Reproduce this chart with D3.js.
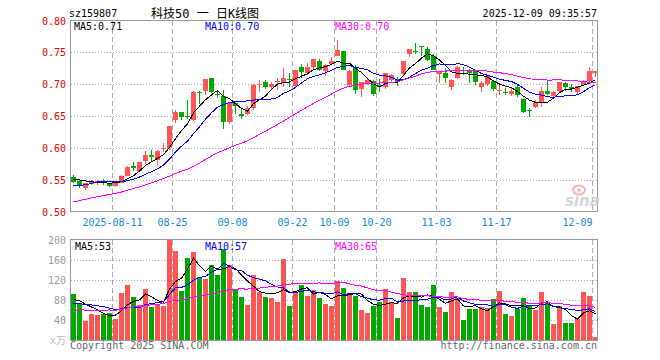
<!DOCTYPE html>
<html><head><meta charset="utf-8">
<script src="https://cdn.jsdelivr.net/npm/d3@7"></script>
<style>body{margin:0;background:#fff}svg{display:block}</style>
</head><body>
<svg id="c" width="660" height="360"></svg>
<script>
const dates = ["07-31","08-01","08-04","08-05","08-06","08-07","08-08","08-11","08-12","08-13","08-14","08-15","08-18","08-19","08-20","08-21","08-22","08-25","08-26","08-27","08-28","08-29","09-01","09-02","09-03","09-04","09-05","09-08","09-09","09-10","09-11","09-12","09-15","09-16","09-17","09-18","09-19","09-22","09-23","09-24","09-25","09-26","09-29","09-30","10-09","10-10","10-13","10-14","10-15","10-16","10-17","10-20","10-21","10-22","10-23","10-24","10-27","10-28","10-29","10-30","10-31","11-03","11-04","11-05","11-06","11-07","11-10","11-11","11-12","11-13","11-14","11-17","11-18","11-19","11-20","11-21","11-24","11-25","11-26","11-27","11-28","12-01","12-02","12-03","12-04","12-05","12-08","12-09"];
const openP = [0.554,0.548,0.537,0.543,0.544,0.546,0.544,0.540,0.545,0.556,0.572,0.564,0.580,0.589,0.581,0.598,0.600,0.644,0.657,0.650,0.644,0.688,0.689,0.709,0.685,0.682,0.640,0.670,0.653,0.653,0.662,0.699,0.703,0.696,0.703,0.702,0.708,0.697,0.727,0.717,0.727,0.736,0.720,0.731,0.745,0.752,0.698,0.727,0.692,0.701,0.705,0.698,0.695,0.706,0.708,0.716,0.748,0.752,0.760,0.756,0.745,0.716,0.717,0.695,0.709,0.722,0.722,0.720,0.695,0.700,0.705,0.690,0.688,0.685,0.695,0.677,0.660,0.664,0.672,0.689,0.681,0.689,0.702,0.695,0.688,0.699,0.705,0.717];
const highP = [0.558,0.551,0.545,0.549,0.550,0.551,0.545,0.547,0.558,0.572,0.578,0.578,0.595,0.597,0.596,0.607,0.635,0.659,0.657,0.675,0.689,0.689,0.708,0.710,0.691,0.691,0.670,0.670,0.661,0.666,0.701,0.706,0.706,0.703,0.710,0.725,0.717,0.722,0.731,0.734,0.739,0.739,0.732,0.742,0.770,0.752,0.723,0.730,0.703,0.708,0.706,0.708,0.717,0.716,0.712,0.737,0.755,0.764,0.760,0.759,0.747,0.721,0.725,0.708,0.728,0.727,0.722,0.721,0.705,0.714,0.706,0.699,0.694,0.694,0.698,0.677,0.662,0.675,0.695,0.706,0.690,0.703,0.703,0.700,0.697,0.706,0.727,0.720];
const lowP = [0.544,0.537,0.534,0.541,0.541,0.541,0.538,0.539,0.544,0.555,0.564,0.563,0.575,0.580,0.573,0.594,0.597,0.639,0.644,0.645,0.642,0.669,0.683,0.686,0.678,0.630,0.638,0.653,0.646,0.652,0.660,0.687,0.693,0.693,0.691,0.695,0.695,0.695,0.710,0.714,0.723,0.720,0.713,0.730,0.744,0.722,0.696,0.685,0.680,0.698,0.681,0.688,0.693,0.703,0.697,0.714,0.742,0.747,0.744,0.736,0.722,0.702,0.702,0.691,0.708,0.714,0.702,0.698,0.688,0.697,0.689,0.683,0.683,0.681,0.680,0.655,0.648,0.662,0.664,0.683,0.678,0.687,0.689,0.688,0.683,0.697,0.703,0.712];
const closeP = [0.547,0.542,0.544,0.547,0.548,0.544,0.540,0.546,0.556,0.570,0.569,0.577,0.589,0.586,0.595,0.600,0.634,0.657,0.649,0.648,0.687,0.686,0.708,0.687,0.683,0.640,0.670,0.666,0.650,0.662,0.699,0.700,0.696,0.701,0.705,0.709,0.706,0.722,0.719,0.727,0.739,0.722,0.730,0.737,0.753,0.723,0.721,0.691,0.703,0.706,0.684,0.695,0.717,0.714,0.705,0.737,0.755,0.750,0.758,0.738,0.723,0.720,0.709,0.706,0.727,0.720,0.717,0.703,0.702,0.713,0.692,0.691,0.687,0.689,0.683,0.656,0.659,0.670,0.689,0.684,0.688,0.703,0.695,0.692,0.697,0.705,0.720,0.720];
const volume = [92,74,38,52,50,53,55,42,94,110,86,70,102,66,72,69,199,178,98,164,176,126,122,150,130,181,150,101,86,70,130,96,86,84,76,162,68,94,110,88,100,84,72,68,118,104,90,88,60,54,68,76,102,76,44,124,96,96,70,66,110,66,56,96,84,40,62,62,66,64,82,98,52,48,62,84,68,60,96,76,33,68,34,34,42,96,88,7];
// estimated closes / volumes of the 29 sessions before 07-31 (needed for the moving averages)
const priorCloses = [0.478,0.482,0.485,0.49,0.488,0.492,0.495,0.49,0.486,0.49,0.494,0.497,0.495,0.49,0.498,0.52,0.535,0.545,0.55,0.55,0.535,0.53,0.528,0.525,0.532,0.545,0.552,0.553,0.554];
const priorVolumes = [55,48,60,50,45,52,54,38,32,36,30,40,34,35,35,80,95,78,90,83,70,62,58,66,69,85,72,80,76];
const priceTicks = [0.50,0.55,0.60,0.65,0.70,0.75,0.80];
const volTicks = [40,80,120,160,200];
const tickDates = ["08-11","08-25","09-08","09-22","10-09","10-20","11-03","11-17","12-09"];
const tickLabels = ["2025-08-11","08-25","09-08","09-22","10-09","10-20","11-03","11-17","12-09"];
const maPeriods = [5,10,30];
const maColors = ["#000000","#0000ff","#ff00ff"];

const RED = "#ff5555", GREEN = "#00a800";
const FONT = "'DejaVu Sans Mono', 'Noto Sans CJK SC', monospace";
const svg = d3.select("#c");
const L = 70.5, R = 597.5;
const n = dates.length;
const xc = d3.scaleLinear().domain([0, n - 1]).range([73.5, 73.5 + 6 * (n - 1)]);
const yP = d3.scaleLinear().domain([0.50, 0.80]).range([211.5, 20.5]);
const yV = d3.scaleLinear().domain([0, 200]).range([340.5, 239.5]);

function ma(series, prior, p) {
  const all = prior.concat(series);
  const off = prior.length;
  return series.map((_, i) => d3.mean(all.slice(off + i - p + 1, off + i + 1)));
}

function panel(y, top, bottom, hTicks) {
  const g = svg.append("g");
  g.selectAll(".hg").data(hTicks).join("line")
    .attr("x1", L).attr("x2", R).attr("y1", d => Math.round(y(d)) + 0.5).attr("y2", d => Math.round(y(d)) + 0.5)
    .attr("stroke", "#aaaaaa").attr("stroke-dasharray", "1,2").attr("shape-rendering", "crispEdges");
  g.selectAll(".vg").data(tickDates).join("line")
    .attr("x1", d => xc(dates.indexOf(d)) - 3).attr("x2", d => xc(dates.indexOf(d)) - 3)
    .attr("y1", top).attr("y2", bottom)
    .attr("stroke", "#aaaaaa").attr("stroke-dasharray", "5,3").attr("shape-rendering", "crispEdges");
  return g;
}

// ---- main price panel ----
panel(yP, 20.5, 211.5, [0.55,0.60,0.65,0.70,0.75]);
const candles = svg.append("g").attr("shape-rendering", "crispEdges");
dates.forEach((d, i) => {
  const up = closeP[i] >= openP[i];
  const col = up ? RED : GREEN;
  const x = xc(i);
  candles.append("line").attr("x1", x).attr("x2", x)
    .attr("y1", yP(highP[i])).attr("y2", yP(lowP[i])).attr("stroke", col);
  const yt = yP(Math.max(openP[i], closeP[i])), yb = yP(Math.min(openP[i], closeP[i]));
  candles.append("rect").attr("x", x - 2.5).attr("width", 5)
    .attr("y", yt).attr("height", Math.max(1, yb - yt)).attr("fill", col);
});
const priceMAs = maPeriods.map(p => ma(closeP, priorCloses, p));
const lineP = d3.line().x((d, i) => xc(i)).y(d => yP(d));
priceMAs.forEach((m, k) => {
  svg.append("path").attr("d", lineP(m)).attr("fill", "none")
    .attr("stroke", maColors[k]).attr("stroke-width", 1).attr("shape-rendering", "crispEdges");
});
svg.append("rect").attr("x", L).attr("y", 20.5).attr("width", R - L).attr("height", 191)
  .attr("fill", "none").attr("stroke", "#999999").attr("shape-rendering", "crispEdges");

// y labels price
svg.selectAll(".pl").data(priceTicks).join("text")
  .attr("x", 66).attr("y", d => yP(d) + 4).attr("text-anchor", "end")
  .attr("font-family", FONT).attr("font-size", 10).attr("fill", "#e00000")
  .text(d => d.toFixed(2));
// x labels
svg.selectAll(".xl").data(tickDates).join("text")
  .attr("x", (d, i) => i === tickDates.length - 1 ? xc(dates.indexOf(d)) - 3 : xc(dates.indexOf(d)) - 3)
  .attr("text-anchor", (d, i) => i === tickDates.length - 1 ? "end" : "middle")
  .attr("y", 225.5).attr("font-family", FONT).attr("font-size", 10).attr("fill", "#1188dd")
  .text((d, i) => tickLabels[i]);

// legends
const legX = [74, 205, 335];
const lastP = priceMAs.map(m => m[m.length - 1]);
maPeriods.forEach((p, k) => {
  svg.append("text").attr("x", legX[k]).attr("y", 30).attr("font-family", FONT).attr("font-size", 10)
    .attr("fill", maColors[k]).text("MA" + p + ":" + lastP[k].toFixed(2));
});

// watermark
const wm = svg.append("g").attr("opacity", 0.8);
wm.append("ellipse").attr("cx", 579).attr("cy", 190).attr("rx", 6).attr("ry", 4.5).attr("fill", "none").attr("stroke", "#f2a0a0").attr("stroke-width", 2);
wm.append("circle").attr("cx", 579).attr("cy", 190).attr("r", 1.8).attr("fill", "#f2a0a0");
wm.append("text").attr("x", 565).attr("y", 206).attr("font-family", "'DejaVu Sans', sans-serif")
  .attr("font-size", 15).attr("font-weight", "bold").attr("font-style", "italic").attr("fill", "#cccccc").text("sina");

// ---- volume panel ----
panel(yV, 239.5, 340.5, [40,80,120,160]);
const vb = svg.append("g").attr("shape-rendering", "crispEdges");
vb.selectAll("rect").data(volume).join("rect")
  .attr("x", (d, i) => xc(i) - 2.5).attr("width", 5)
  .attr("y", d => yV(d)).attr("height", d => yV(0) - yV(d))
  .attr("fill", (d, i) => closeP[i] >= openP[i] ? RED : GREEN);
const volMAs = maPeriods.map(p => ma(volume, priorVolumes, p));
const lineV = d3.line().x((d, i) => xc(i)).y(d => yV(d));
volMAs.forEach((m, k) => {
  svg.append("path").attr("d", lineV(m)).attr("fill", "none")
    .attr("stroke", maColors[k]).attr("stroke-width", 1).attr("shape-rendering", "crispEdges");
});
svg.append("rect").attr("x", L).attr("y", 239.5).attr("width", R - L).attr("height", 101)
  .attr("fill", "none").attr("stroke", "#999999").attr("shape-rendering", "crispEdges");
svg.selectAll(".vl").data(volTicks).join("text")
  .attr("x", 66).attr("y", d => yV(d) + 4).attr("text-anchor", "end")
  .attr("font-family", FONT).attr("font-size", 10).attr("fill", "#999999").text(d => d);
svg.append("text").attr("x", 66).attr("y", 344).attr("text-anchor", "end")
  .attr("font-family", FONT).attr("font-size", 10).attr("fill", "#bbbbbb").text("x万");
const lastV = volMAs.map(m => m[m.length - 1]);
const vlegX = [75, 205, 335];
maPeriods.forEach((p, k) => {
  svg.append("text").attr("x", vlegX[k]).attr("y", 250).attr("font-family", FONT).attr("font-size", 10)
    .attr("fill", maColors[k]).text("MA" + p + ":" + Math.floor(lastV[k]));
});

// header & footer
svg.append("text").attr("x", 69).attr("y", 17).attr("font-family", FONT).attr("font-size", 10).attr("fill", "#000").text("sz159807");
svg.append("text").attr("x", 151).attr("y", 18).attr("font-family", FONT).attr("font-size", 12).attr("fill", "#000").text("科技50 一 日K线图");
svg.append("text").attr("x", 597).attr("y", 17).attr("text-anchor", "end").attr("font-family", FONT).attr("font-size", 10).attr("fill", "#000").text("2025-12-09 09:35:57");
svg.append("text").attr("x", 70).attr("y", 349).attr("font-family", FONT).attr("font-size", 10).attr("fill", "#666666").text("Copyright 2025 SINA.COM");
svg.append("text").attr("x", 597).attr("y", 349).attr("text-anchor", "end").attr("font-family", FONT).attr("font-size", 10).attr("fill", "#666666").text("http://finance.sina.com.cn");
</script>
</body></html>
